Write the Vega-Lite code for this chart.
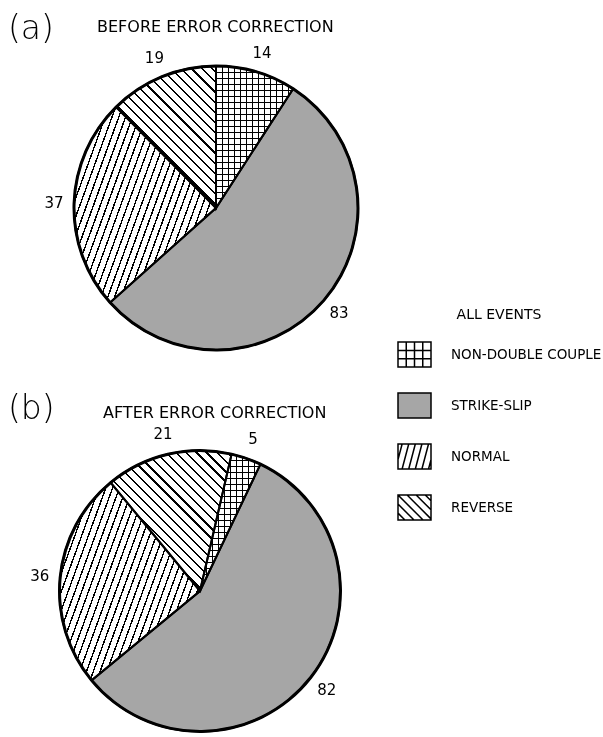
{
  "$schema": "https://vega.github.io/schema/vega-lite/v6.json",
  "background": "white",
  "padding": {"left": 8, "top": 13, "right": 0, "bottom": 0},
  "bounds": "flush",
  "spacing": 384,
  "config": {"view": {"stroke": null}, "font": "DejaVu Sans", "title": {"color": "black", "font": "DejaVu Sans", "fontWeight": "normal"}},
  "params": [
    {
      "name": "stripes",
      "value": [
        {"offset":0,"color":"#000"},{"offset":0.0061,"color":"#000"},{"offset":0.0061,"color":"#fff"},{"offset":0.0278,"color":"#fff"},
        {"offset":0.0278,"color":"#000"},{"offset":0.0339,"color":"#000"},{"offset":0.0339,"color":"#fff"},{"offset":0.0556,"color":"#fff"},
        {"offset":0.0556,"color":"#000"},{"offset":0.0617,"color":"#000"},{"offset":0.0617,"color":"#fff"},{"offset":0.0833,"color":"#fff"},
        {"offset":0.0833,"color":"#000"},{"offset":0.0894,"color":"#000"},{"offset":0.0894,"color":"#fff"},{"offset":0.1111,"color":"#fff"},
        {"offset":0.1111,"color":"#000"},{"offset":0.1172,"color":"#000"},{"offset":0.1172,"color":"#fff"},{"offset":0.1389,"color":"#fff"},
        {"offset":0.1389,"color":"#000"},{"offset":0.145,"color":"#000"},{"offset":0.145,"color":"#fff"},{"offset":0.1667,"color":"#fff"},
        {"offset":0.1667,"color":"#000"},{"offset":0.1728,"color":"#000"},{"offset":0.1728,"color":"#fff"},{"offset":0.1944,"color":"#fff"},
        {"offset":0.1944,"color":"#000"},{"offset":0.2005,"color":"#000"},{"offset":0.2005,"color":"#fff"},{"offset":0.2222,"color":"#fff"},
        {"offset":0.2222,"color":"#000"},{"offset":0.2283,"color":"#000"},{"offset":0.2283,"color":"#fff"},{"offset":0.25,"color":"#fff"},
        {"offset":0.25,"color":"#000"},{"offset":0.2561,"color":"#000"},{"offset":0.2561,"color":"#fff"},{"offset":0.2778,"color":"#fff"},
        {"offset":0.2778,"color":"#000"},{"offset":0.2839,"color":"#000"},{"offset":0.2839,"color":"#fff"},{"offset":0.3056,"color":"#fff"},
        {"offset":0.3056,"color":"#000"},{"offset":0.3117,"color":"#000"},{"offset":0.3117,"color":"#fff"},{"offset":0.3333,"color":"#fff"},
        {"offset":0.3333,"color":"#000"},{"offset":0.3394,"color":"#000"},{"offset":0.3394,"color":"#fff"},{"offset":0.3611,"color":"#fff"},
        {"offset":0.3611,"color":"#000"},{"offset":0.3672,"color":"#000"},{"offset":0.3672,"color":"#fff"},{"offset":0.3889,"color":"#fff"},
        {"offset":0.3889,"color":"#000"},{"offset":0.395,"color":"#000"},{"offset":0.395,"color":"#fff"},{"offset":0.4167,"color":"#fff"},
        {"offset":0.4167,"color":"#000"},{"offset":0.4228,"color":"#000"},{"offset":0.4228,"color":"#fff"},{"offset":0.4444,"color":"#fff"},
        {"offset":0.4444,"color":"#000"},{"offset":0.4505,"color":"#000"},{"offset":0.4505,"color":"#fff"},{"offset":0.4722,"color":"#fff"},
        {"offset":0.4722,"color":"#000"},{"offset":0.4783,"color":"#000"},{"offset":0.4783,"color":"#fff"},{"offset":0.5,"color":"#fff"},
        {"offset":0.5,"color":"#000"},{"offset":0.5061,"color":"#000"},{"offset":0.5061,"color":"#fff"},{"offset":0.5278,"color":"#fff"},
        {"offset":0.5278,"color":"#000"},{"offset":0.5339,"color":"#000"},{"offset":0.5339,"color":"#fff"},{"offset":0.5556,"color":"#fff"},
        {"offset":0.5556,"color":"#000"},{"offset":0.5617,"color":"#000"},{"offset":0.5617,"color":"#fff"},{"offset":0.5833,"color":"#fff"},
        {"offset":0.5833,"color":"#000"},{"offset":0.5894,"color":"#000"},{"offset":0.5894,"color":"#fff"},{"offset":0.6111,"color":"#fff"},
        {"offset":0.6111,"color":"#000"},{"offset":0.6172,"color":"#000"},{"offset":0.6172,"color":"#fff"},{"offset":0.6389,"color":"#fff"},
        {"offset":0.6389,"color":"#000"},{"offset":0.645,"color":"#000"},{"offset":0.645,"color":"#fff"},{"offset":0.6667,"color":"#fff"},
        {"offset":0.6667,"color":"#000"},{"offset":0.6728,"color":"#000"},{"offset":0.6728,"color":"#fff"},{"offset":0.6944,"color":"#fff"},
        {"offset":0.6944,"color":"#000"},{"offset":0.7005,"color":"#000"},{"offset":0.7005,"color":"#fff"},{"offset":0.7222,"color":"#fff"},
        {"offset":0.7222,"color":"#000"},{"offset":0.7283,"color":"#000"},{"offset":0.7283,"color":"#fff"},{"offset":0.75,"color":"#fff"},
        {"offset":0.75,"color":"#000"},{"offset":0.7561,"color":"#000"},{"offset":0.7561,"color":"#fff"},{"offset":0.7778,"color":"#fff"},
        {"offset":0.7778,"color":"#000"},{"offset":0.7839,"color":"#000"},{"offset":0.7839,"color":"#fff"},{"offset":0.8056,"color":"#fff"},
        {"offset":0.8056,"color":"#000"},{"offset":0.8117,"color":"#000"},{"offset":0.8117,"color":"#fff"},{"offset":0.8333,"color":"#fff"},
        {"offset":0.8333,"color":"#000"},{"offset":0.8394,"color":"#000"},{"offset":0.8394,"color":"#fff"},{"offset":0.8611,"color":"#fff"},
        {"offset":0.8611,"color":"#000"},{"offset":0.8672,"color":"#000"},{"offset":0.8672,"color":"#fff"},{"offset":0.8889,"color":"#fff"},
        {"offset":0.8889,"color":"#000"},{"offset":0.895,"color":"#000"},{"offset":0.895,"color":"#fff"},{"offset":0.9167,"color":"#fff"},
        {"offset":0.9167,"color":"#000"},{"offset":0.9228,"color":"#000"},{"offset":0.9228,"color":"#fff"},{"offset":0.9444,"color":"#fff"},
        {"offset":0.9444,"color":"#000"},{"offset":0.9505,"color":"#000"},{"offset":0.9505,"color":"#fff"},{"offset":0.9722,"color":"#fff"},
        {"offset":0.9722,"color":"#000"},{"offset":0.9783,"color":"#000"},{"offset":0.9783,"color":"#fff"},{"offset":1,"color":"#fff"}
      ]
    }
  ],
  "datasets": {
    "before": [
      {"type": "NON-DOUBLE COUPLE", "n": 14, "k": 1},
      {"type": "STRIKE-SLIP", "n": 83, "k": 2},
      {"type": "NORMAL", "n": 37, "k": 3},
      {"type": "REVERSE", "n": 19, "k": 4}
    ],
    "after": [
      {"type": "NON-DOUBLE COUPLE", "n": 5, "k": 1},
      {"type": "STRIKE-SLIP", "n": 82, "k": 2},
      {"type": "NORMAL", "n": 36, "k": 3},
      {"type": "REVERSE", "n": 21, "k": 4}
    ]
  },
  "vconcat": [
    {
      "bounds": "flush",
      "title": {"text": "(a)", "anchor": "start", "frame": "group", "orient": "top", "fontSize": 33, "fontWeight": 200, "baseline": "alphabetic", "offset": 29, "dx": -49, "dy": 82},
      "vconcat": [
        {
          "width": 318,
          "height": 286,
          "title": {"text": "BEFORE ERROR CORRECTION", "anchor": "start", "frame": "group", "fontSize": 16, "baseline": "alphabetic", "offset": 13, "dx": 40, "dy": 15.5},
          "data": {"name": "before"},
          "encoding": {
            "theta": {"field": "n", "type": "quantitative", "stack": true, "scale": {"range": [0, 6.2832]}},
            "order": {"field": "k", "type": "quantitative"}
          },
          "layer": [
            {
              "mark": {"type": "arc", "outerRadius": 142},
              "encoding": {
                "fill": {
                  "field": "type",
                  "type": "nominal",
                  "scale": {"domain": ["NON-DOUBLE COUPLE", "STRIKE-SLIP", "NORMAL", "REVERSE"], "range": ["white", "#a6a6a6", "white", "white"]},
                  "legend": {
                    "orient": "none", "legendX": 340, "legendY": 243, "direction": "vertical",
                    "title": "ALL EVENTS", "titleFontSize": 14, "titleFontWeight": "normal", "titleColor": "black", "titlePadding": 15, "titleAnchor": "middle",
                    "labelFontSize": 13.5, "labelColor": "black", "labelOffset": 19, "labelLimit": 400, "rowPadding": 17,
                    "symbolSize": 1089, "symbolStrokeColor": "black", "symbolStrokeWidth": 1.5, "symbolOpacity": 1
                  }
                }
              }
            },
            {
              "transform": [{"stack": "n", "groupby": [], "sort": [{"field": "k"}], "as": ["t0", "t1"]}, {"filter": "datum.type === 'NON-DOUBLE COUPLE'"}],
              "mark": {"type": "arc", "outerRadius": 142, "fill": {"expr": "{gradient: 'linear', x1: 0, y1: 0, x2: 0, y2: 1.5211, stops: stripes}"}},
              "encoding": {"theta": {"field": "t0", "type": "quantitative", "stack": null, "scale": {"range": [0, 6.2832]}}, "theta2": {"field": "t1"}}
            },
            {
              "transform": [{"stack": "n", "groupby": [], "sort": [{"field": "k"}], "as": ["t0", "t1"]}, {"filter": "datum.type === 'NON-DOUBLE COUPLE'"}],
              "mark": {"type": "arc", "outerRadius": 142, "blend": "multiply", "fill": {"expr": "{gradient: 'linear', x1: 0, y1: 0, x2: 2.798, y2: 0, stops: stripes}"}},
              "encoding": {"theta": {"field": "t0", "type": "quantitative", "stack": null, "scale": {"range": [0, 6.2832]}}, "theta2": {"field": "t1"}}
            },
            {
              "transform": [{"stack": "n", "groupby": [], "sort": [{"field": "k"}], "as": ["t0", "t1"]}, {"filter": "datum.type === 'NORMAL'"}],
              "mark": {"type": "arc", "outerRadius": 142, "fill": {"expr": "{gradient: 'linear', x1: 0, y1: 0, x2: 1.38, y2: 0.6915, stops: stripes}"}},
              "encoding": {"theta": {"field": "t0", "type": "quantitative", "stack": null, "scale": {"range": [0, 6.2832]}}, "theta2": {"field": "t1"}}
            },
            {
              "transform": [{"stack": "n", "groupby": [], "sort": [{"field": "k"}], "as": ["t0", "t1"]}, {"filter": "datum.type === 'REVERSE'"}],
              "mark": {"type": "arc", "outerRadius": 142, "fill": {"expr": "{gradient: 'linear', x1: 0, y1: 1, x2: 1.2147, y2: -0.7268, stops: stripes}"}},
              "encoding": {"theta": {"field": "t0", "type": "quantitative", "stack": null, "scale": {"range": [0, 6.2832]}}, "theta2": {"field": "t1"}}
            },
            {"mark": {"type": "arc", "outerRadius": 142, "filled": false, "stroke": "black", "strokeWidth": 2}},
            {"mark": {"type": "arc", "innerRadius": 140.5, "outerRadius": 143.5, "fill": "black"}},
            {
              "mark": {"type": "text", "radius": 162, "fontSize": 15, "color": "black"},
              "encoding": {"text": {"field": "n", "type": "quantitative"}}
            },
            {
              "mark": {"type": "point", "size": 0, "opacity": 0, "strokeWidth": 0},
              "encoding": {
                "shape": {
                  "field": "type",
                  "type": "nominal",
                  "scale": {
                    "domain": ["NON-DOUBLE COUPLE", "STRIKE-SLIP", "NORMAL", "REVERSE"],
                    "range": [
                      "M-1,-0.76H1V0.76H-1ZM-0.5,-0.76V0.76M0,-0.76V0.76M0.5,-0.76V0.76M-1,-0.25H1M-1,0.25H1",
                      "M-1,-0.76H1V0.76H-1Z",
                      "M-1,-0.76H1V0.76H-1ZM-1,0.19L-0.75,-0.76M-0.75,0.76L-0.35,-0.76M-0.35,0.76L0.05,-0.76M0.05,0.76L0.45,-0.76M0.45,0.76L0.85,-0.76M0.85,0.76L1,0.19",
                      "M-1,-0.76H1V0.76H-1ZM-1,-0.76L0.52,0.76M-1,-0.21L-0.03,0.76M-1,0.34L-0.58,0.76M-0.45,-0.76L1,0.69M0.1,-0.76L1,0.14M0.65,-0.76L1,-0.41"
                    ]
                  },
                  "legend": {
                    "orient": "none", "legendX": 340, "legendY": 243, "direction": "vertical",
                    "title": "ALL EVENTS", "titleFontSize": 14, "titleFontWeight": "normal", "titleColor": "black", "titlePadding": 15, "titleAnchor": "middle",
                    "labelFontSize": 13.5, "labelColor": "black", "labelOffset": 19, "labelLimit": 400, "rowPadding": 17,
                    "symbolSize": 1089, "symbolStrokeColor": "black", "symbolStrokeWidth": 1.5, "symbolOpacity": 1
                  }
                }
              }
            }
          ]
        }
      ]
    },
    {
      "bounds": "flush",
      "title": {"text": "(b)", "anchor": "start", "frame": "group", "orient": "top", "fontSize": 33, "fontWeight": 200, "baseline": "alphabetic", "offset": 30, "dx": -49, "dy": 77},
      "vconcat": [
        {
          "width": 286,
          "height": 284,
          "title": {"text": "AFTER ERROR CORRECTION", "anchor": "start", "frame": "group", "fontSize": 16, "baseline": "alphabetic", "offset": 9, "dx": 46, "dy": 15.5},
          "data": {"name": "after"},
          "encoding": {
            "theta": {"field": "n", "type": "quantitative", "stack": true, "scale": {"range": [0.2269, 6.5101]}},
            "order": {"field": "k", "type": "quantitative"}
          },
          "layer": [
            {
              "mark": {"type": "arc", "outerRadius": 140.5},
              "encoding": {
                "fill": {
                  "field": "type",
                  "type": "nominal",
                  "scale": {"domain": ["NON-DOUBLE COUPLE", "STRIKE-SLIP", "NORMAL", "REVERSE"], "range": ["white", "#a6a6a6", "white", "white"]}
                }
              }
            },
            {
              "transform": [{"stack": "n", "groupby": [], "sort": [{"field": "k"}], "as": ["t0", "t1"]}, {"filter": "datum.type === 'NON-DOUBLE COUPLE'"}],
              "mark": {"type": "arc", "outerRadius": 140.5, "fill": {"expr": "{gradient: 'linear', x1: 0, y1: 0, x2: 0, y2: 1.5721, stops: stripes}"}},
              "encoding": {"theta": {"field": "t0", "type": "quantitative", "stack": null, "scale": {"range": [0.2269, 6.5101]}}, "theta2": {"field": "t1"}}
            },
            {
              "transform": [{"stack": "n", "groupby": [], "sort": [{"field": "k"}], "as": ["t0", "t1"]}, {"filter": "datum.type === 'NON-DOUBLE COUPLE'"}],
              "mark": {"type": "arc", "outerRadius": 140.5, "blend": "multiply", "fill": {"expr": "{gradient: 'linear', x1: 0, y1: 0, x2: 3.558, y2: 0, stops: stripes}"}},
              "encoding": {"theta": {"field": "t0", "type": "quantitative", "stack": null, "scale": {"range": [0.2269, 6.5101]}}, "theta2": {"field": "t1"}}
            },
            {
              "transform": [{"stack": "n", "groupby": [], "sort": [{"field": "k"}], "as": ["t0", "t1"]}, {"filter": "datum.type === 'NORMAL'"}],
              "mark": {"type": "arc", "outerRadius": 140.5, "fill": {"expr": "{gradient: 'linear', x1: 0, y1: 0, x2: 1.3772, y2: 0.7057, stops: stripes}"}},
              "encoding": {"theta": {"field": "t0", "type": "quantitative", "stack": null, "scale": {"range": [0.2269, 6.5101]}}, "theta2": {"field": "t1"}}
            },
            {
              "transform": [{"stack": "n", "groupby": [], "sort": [{"field": "k"}], "as": ["t0", "t1"]}, {"filter": "datum.type === 'REVERSE'"}],
              "mark": {"type": "arc", "outerRadius": 140.5, "fill": {"expr": "{gradient: 'linear', x1: 0, y1: 1, x2: 1.2853, y2: -0.4929, stops: stripes}"}},
              "encoding": {"theta": {"field": "t0", "type": "quantitative", "stack": null, "scale": {"range": [0.2269, 6.5101]}}, "theta2": {"field": "t1"}}
            },
            {"mark": {"type": "arc", "outerRadius": 140.5, "filled": false, "stroke": "black", "strokeWidth": 2}},
            {"mark": {"type": "arc", "innerRadius": 139, "outerRadius": 142, "fill": "black"}},
            {
              "mark": {"type": "text", "radius": 161, "fontSize": 15, "color": "black"},
              "encoding": {"text": {"field": "n", "type": "quantitative"}}
            }
          ]
        }
      ]
    }
  ]
}
